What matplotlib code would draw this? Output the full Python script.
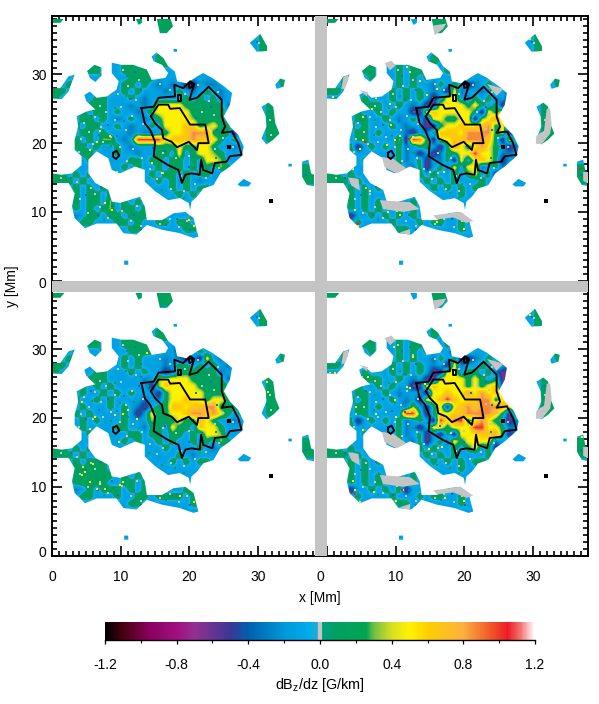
import numpy as np
import matplotlib
matplotlib.use("Agg")
import matplotlib.pyplot as plt
from matplotlib.colors import LinearSegmentedColormap, Normalize
from matplotlib.cm import ScalarMappable
from matplotlib.path import Path
from matplotlib.patches import PathPatch
from matplotlib.ticker import MultipleLocator

plt.rcParams["font.family"] = ["Liberation Sans", "DejaVu Sans"]
plt.rcParams["mathtext.default"] = "regular"

# colour table
cmap_stops = [(-1.2, "#000000"), (-1.1, "#4a0010"), (-0.95, "#8a0060"), (-0.8, "#a01080"), (-0.7, "#933090"),
              (-0.5, "#3b3795"), (-0.4, "#0060ae"), (-0.2, "#0098d8"), (-0.05, "#00aeef"), (-0.012, "#30aac8"),
              (-0.008, "#c4c4c4"), (0.008, "#c4c4c4"), (0.012, "#00a080"), (0.1, "#00a060"), (0.26, "#00a650"),
              (0.3, "#6fbe44"), (0.4, "#d7df23"), (0.5, "#fff200"), (0.6, "#fdd000"), (0.8, "#fbb040"),
              (0.95, "#f15a29"), (1.05, "#ed1c24"), (1.12, "#f47070"), (1.2, "#ffffff")]

# letter -> dBz/dz, for the coarse maps below
levels = {".": -0.13, "b": -0.3, "d": -0.45, "p": -0.62, "g": 0.14, "l": 0.32,
          "y": 0.5, "a": 0.66, "o": 0.86, "r": 1.02}

# 1 Mm cells, rows from y=37 down to y=0, columns x=0..29
map_ul = [
    "gg..........g..ggg", "...............ggg", "", "", "", "...............gg",
    "......g...gg.g.ggg", ".....gg...ggggg...g", "...g...g...gggg....g", "g.g.......gg.g.b.b.pp.bb.g",
    "gg......g.g.g...b.g.b.g.b", "g.....gg...g.b.....g.g.gb",
    ".....ggg...b.b.yyyyggggggb", "....g.gg.g..b.lyyyyyggggg", "....gg.g.b.g.b.gyyyylgggg",
    "...g.gg..g.b..g.yyyaaglygg", "....gg.g...b.bb.gyyaooogggp", "...g.g.ll.b.rrrryaaaoaayg.g",
    "...gg.g..g.b...gggygg" + "yyg..b", "....gg...g..b..gg.y.gyylg", ".....g.....gg.gg.gg.g.yyl",
    "..g.......g.g..g.gg.g.g.lg", "gg.g.g......g.g.gg.g.gg.b", "ggg.g......gg..g.g.g.b",
    "...g.g.g.........g.g.gg.g", "...g.gg.g.........g.g.g", "...g.gg.l.g.g............g",
    "...g.g.gl.gg.gg...g", "...b.gg.gg.gggg.....ggg.gly", "....gg...gg.g..gg.gg.gy",
    "...........gg......gg.gl", "", "", "", "", "", "", "",
]
map_ur = [
    "gg.............ggg", "...............ggg", "", "", "", "...............gg",
    "......g...g.gg.g.g", ".....gg...g.gg.b.ggg", "..g...g...g.g.g.....g", "g.g.......g.g..bg.g.pb.g.g",
    "gg.......g.g.g.b.pyb..b.g.b..g", ".....g...g.g.g.p.yy.bg.gb.p",
    ".....ggg..g.b.ppyyyygyg.gpb", "....g..g.g..ppyayyyyygpygyp", "....gg..g.b.g.pyyggyyplyoyp",
    "...g.g...g.b..ppgyyayyaogybp", "....gg.g...bp.bgaaayoooogypb", "....gg....lprogpyyaaoooagpy.b",
    "...gp.g.g.gb.gg.pgoygyoyg.pb", "...g......gb.p.pbggyyryygbb", ".....g....gb.gp.bgpy.yaygp.b",
    "..g.....g.g.bgp.gby.yyb.gb", "gg.g.........g.g..g.gy.gp", "ggg.g.........g.g.g...g",
    "...g.g.g.......g.g.g.gg", "...g.g...g.........g", "...g.g.g..g.g",
    "...g.g.g..g.g......g.g", "...p..g.g.g.g...g..g.g", "....g....g...g.gg..g.gyl",
    "..........gg.......g.gg", "", "", "", "", "", "", "",
]
map_ll = [
    "gg..........g..ggg", "...............ggg", "", "", "", "...............gg",
    "......g...gg.g.ggg", ".....gg...ggggg...pg", "...g...g...gggg...pp.g", "g.g.......g.g...b.bp.py.bg",
    "gg......g.g.g...b.gg.g.g.b", "g.....gg...g.g..pbggggggb",
    ".....ggg.....b.lyyyygggggbb", "....g.g.g.....playyyygggggb", "....g..g.g.g...pgyyyyygggg",
    "...g..g.g....b.bgyyayygyyg", "....g...g.g.bp.ggaayaaooggg", "...g.g....g.p.yggyyaooaoyg.g",
    "....g.g...g...lgggygg" + "ayg..b", "....g....gg..bgg.ygg.ayyg", ".....g.....gg.gg.gg.g.yyl",
    "..g.......g.g..g.g..g.g.lg", "gg.g.g......g...g....g.b", "ggg.g.......g.....g.b",
    "...g.ggg.........g.g.gg", "...ggggg.g...........", "...gggggg.g.g....",
    "...ggggg..gg.g", "...b.g.ggg.g.g.g...gggglg", "....gg...g..gg.gggg.gg",
    "...........gg.......ggg", "", "", "", "", "", "", "",
]
map_lr = [
    "gg.............ggg", "...............gg", "", "", "", "...............gg",
    "......g...g.gg.g.g", ".....gg...g.gg.b.ggg", "..g...g...g.g.g...p.g", "g.g.......g.g..bg.gppb.g.g",
    "gg.......g.g.g.b.pyb..g.g.b..g", ".....g...g.g.g.ppyy.gg.gbpp",
    ".....ggg..g.b.ppyyyygyg.gppb", "....g..g.g..ppyayyyygygyapp", "....gg..g.b...pyyayyoyoyayyp",
    "...g.g...g.b.pyyarayyaoogyap", "....gg.g...bl.pgypyaoaooooyap", "....gg.....rrgpgyyaaooooagpy.b",
    "...gp.g.g.gb.g.pryorgyoyg.pb", "...g......gb.p.yygyyyrryygbb", ".....g....gb.gp.pgpyyyaaogp.b",
    "..g.....g.g.bgp.gbygyyyyb.gb", "gg.g.........g.g..g.gy.gp", "ggg.g.........g.g.g....g",
    "...g.g.g.......g.g.g.gg", "...g.g...g.........g", "...g.g.g..g.g",
    "...g.g.g..g.g......g.g", "...p..g.g.gp.....g..g.g", "....g....g...g.gg..g.gyy",
    "..........gg.......g.gg", "", "", "", "", "", "", "",
]
# columns x=30..37, same for all four maps
map_side = [
    "", "", "g", "gg", "gg", "", "", "", "...g", "...g", "", "", ".g", ".gg", ".gg", ".gg", ".ggg", ".gg",
    "", "", "", "......gg", "......gg", "......gg", "", "", "", "", "", "", "", "", "", "", "", "", "", "",
]

# outline of the strong field area, Mm
main_x = [8.7, 10.1, 11.8, 13.8, 14.5, 16.5, 16.9, 16.0, 14.8, 14.5, 15.2, 16.2, 16.9, 17.9, 18.2, 19.6, 21.1, 22.0,
          23.3, 25.0, 26.2, 25.9, 25.0, 25.9, 27.1, 27.9, 27.6, 25.9, 24.5, 23.5, 22.0, 21.1, 20.3, 20.1, 19.9, 18.6,
          16.9, 15.0, 13.5, 13.5, 12.1, 9.9, 8.7, 8.2, 6.5, 5.3, 5.3, 6.3, 8.2, 8.7, 9.9, 12.8, 13.5, 13.8, 16.0, 17.7,
          19.4, 20.6, 21.3, 20.6, 18.6, 16.0, 13.8, 12.3, 10.4, 9.4, 6.5, 4.8, 3.3, 2.9, 3.3, 2.4, 0.0, 0.0, 1.4, 2.9,
          4.3, 4.3, 3.3, 3.3, 3.8, 3.6, 5.0, 6.3, 5.0, 4.7, 5.5, 6.5, 8.0, 9.4, 9.7, 8.7]
main_y = [31.7, 31.4, 31.4, 30.7, 29.2, 29.5, 30.2, 31.4, 31.9, 32.6, 33.2, 32.4, 31.2, 30.4, 29.0, 28.7, 29.7, 30.2,
          29.5, 28.3, 27.3, 25.6, 23.9, 22.4, 21.2, 19.5, 18.1, 16.6, 15.6, 13.9, 13.4, 12.2, 11.5, 10.3, 11.3, 12.0,
          11.7, 13.0, 14.4, 16.1, 16.6, 15.6, 16.1, 17.8, 18.8, 17.6, 15.6, 14.2, 13.2, 11.5, 11.3, 12.2, 10.8, 8.8, 8.8, 9.8,
          10.0, 9.1, 6.4, 6.2, 6.9, 7.4, 8.1, 6.7, 6.9, 8.3, 8.3, 7.6, 9.1, 10.8, 12.7, 14.2, 14.2, 15.6, 15.4, 15.6,
          16.8, 18.1, 19.0, 20.5, 22.4, 23.9, 24.6, 24.9, 26.1, 27.0, 27.5, 26.6, 26.8, 27.8, 29.0, 30.2]
blobs = [
    [(5.1, 30.5), (6.2, 31.4), (7.2, 31.0), (7.2, 29.8), (6.3, 28.9), (5.5, 29.5)],
    [(0, 28.0), (1.2, 28.0), (2.4, 29.7), (3.3, 30.0), (2.4, 27.5), (1.4, 26.4), (0, 26.5)],
    [(28.8, 34.6), (30.3, 35.9), (31.3, 34.1), (31.3, 33.4), (29.8, 33.3)],
    [(32.5, 28.5), (33.2, 29.4), (33.9, 29.2), (33.7, 28.2), (32.7, 27.9)],
    [(30.5, 25.3), (31.5, 25.9), (32.2, 25.3), (32.5, 22.9), (33.1, 21.4), (32.2, 20.5), (31.2, 19.8), (30.5, 20.7), (31.2, 22.4), (31.1, 23.9)],
    [(36.4, 17.3), (37.3, 17.6), (37.7, 15.6), (38.3, 15.3), (38.3, 13.7), (37.1, 13.9), (36.4, 15.1)],
    [(27.0, 14.0), (27.9, 14.8), (29.0, 14.2), (28.6, 13.7), (27.4, 13.7)],
    [(15.2, 38.3), (17.2, 38.3), (17.6, 37.0), (16.7, 36.0), (15.7, 36.0)],
    [(12.1, 38.3), (13.1, 38.3), (13.1, 37.5), (12.6, 37.2)],
    [(0, 38.3), (1.9, 38.3), (1.2, 37.5), (0, 37.5)],
    [(10.5, 2.3), (11.1, 2.3), (11.1, 2.9), (10.5, 2.9)],
    [(17.7, 33.3), (18.2, 33.3), (18.2, 33.7), (17.7, 33.7)],
    [(34.4, 16.6), (34.9, 16.6), (34.9, 17.0), (34.4, 17.0)],
]
# grey in the two right panels, where the lower height has no data
grey_blobs = [
    [(2.1, 27.9), (2.4, 29.6), (3.1, 30.0), (3.1, 29.1), (2.6, 27.9)],
    [(32.0, 25.0), (32.5, 25.0), (32.7, 22.8), (32.5, 21.4), (31.3, 19.9), (30.4, 19.9), (30.5, 21.1), (31.6, 21.8)],
    [(8.4, 31.6), (9.4, 32.0), (10.0, 31.3), (9.2, 30.6)],
    [(4.8, 27.7), (6.0, 27.4), (5.8, 26.8)],
    [(15.4, 37.1), (17.4, 37.4), (16.9, 36.6), (15.7, 35.7)],
    [(3.1, 15.0), (4.6, 14.8), (4.8, 13.1), (3.6, 13.8)],
    [(7.7, 11.7), (12.1, 11.4), (13.5, 10.4), (11.1, 10.0), (8.2, 10.4)],
    [(15.5, 9.5), (19.4, 10.0), (21.3, 8.7), (20.3, 8.4), (18.4, 9.2), (16.0, 8.9)],
    [(8.0, 18.0), (9.7, 17.7), (11.6, 16.3), (10.1, 15.6), (8.4, 16.5)],
    [(10.6, 7.0), (12.1, 7.5), (12.1, 6.6)],
    [(37.3, 15.8), (38.3, 15.8), (38.3, 14.0), (37.3, 14.5)],
    [(23.3, 28.6), (25.7, 27.9), (24.7, 26.9)],
]

# single pixels that stand out from their surroundings, Mm
grey_specks = [(4.6, 23.0), (5.4, 21.6), (6.3, 23.8), (7.1, 22.3), (7.9, 24.6), (8.6, 20.9), (9.2, 23.4), (10.1, 25.2),
               (10.8, 21.9), (11.6, 24.0), (12.2, 26.3), (9.6, 27.1), (11.1, 28.3), (12.6, 29.2), (13.3, 22.8), (6.0, 19.9),
               (7.4, 20.2), (4.2, 20.6), (9.9, 19.4), (11.8, 19.2), (13.1, 17.9), (10.9, 17.4), (14.2, 16.2), (15.3, 14.8),
               (17.3, 13.4), (19.2, 13.0), (16.2, 15.6), (20.8, 14.0), (22.4, 15.0), (18.1, 17.8), (16.2, 18.6), (19.9, 18.1),
               (23.7, 19.2), (24.9, 20.8), (26.3, 19.4), (22.9, 26.2), (21.9, 24.6), (23.6, 24.1), (24.1, 27.4), (19.3, 27.1),
               (21.2, 28.4), (17.1, 27.8), (15.7, 28.6), (4.1, 11.8), (5.2, 9.9), (6.3, 12.6), (7.0, 10.7), (8.1, 9.1),
               (9.0, 12.2), (10.2, 10.1), (11.5, 8.6), (12.4, 10.9), (13.0, 8.0), (15.7, 8.3), (17.1, 9.0), (18.5, 7.8),
               (19.7, 8.6), (3.7, 14.3), (1.3, 14.9), (5.7, 13.5), (5.1, 25.9), (8.3, 29.9), (10.4, 30.6), (7.0, 25.4),
               (4.0, 18.7), (12.9, 15.5), (18.8, 15.2), (24.3, 16.4), (23.2, 22.1), (31.7, 23.3), (31.9, 21.2), (30.1, 34.5)]
blue_specks = [(5.7, 24.0), (6.8, 21.2), (8.1, 22.7), (9.5, 21.0), (10.5, 23.2), (11.3, 26.4), (12.7, 24.6), (13.0, 27.8),
               (10.9, 29.8), (12.1, 30.4), (4.9, 19.8), (6.4, 16.0), (7.2, 13.6), (5.0, 12.4), (6.7, 9.6), (8.8, 10.9),
               (9.6, 8.8), (11.9, 9.6), (12.9, 7.4), (16.6, 8.1), (18.2, 8.9), (20.1, 7.3), (16.5, 18.9), (21.0, 23.6),
               (24.0, 21.9), (23.2, 25.2), (2.7, 14.9), (31.6, 24.6), (37.0, 15.3), (29.9, 34.7), (14.7, 19.3), (20.0, 16.5)]
green_specks = [(7.0, 23.3), (9.9, 22.2), (12.0, 22.4), (13.9, 24.7), (11.0, 20.2), (12.6, 18.6), (14.1, 14.9), (16.0, 13.2),
                (17.9, 12.7), (19.7, 14.0), (21.6, 14.9), (23.9, 17.9), (25.4, 19.6), (26.6, 20.6), (23.9, 27.7), (22.0, 28.9),
                (18.9, 27.4), (10.7, 26.9), (12.9, 25.9), (9.1, 25.1), (5.8, 22.5), (8.6, 19.6), (4.6, 9.1), (3.6, 11.1),
                (7.5, 8.8), (10.7, 12.5), (14.6, 9.4), (19.2, 12.0), (1.1, 27.3)]
yellow_ul = [(6.5, 20.2), (8.4, 21.0), (5.5, 19.0), (9.4, 15.8), (7.7, 11.3), (8.7, 10.3), (19.9, 8.8), (20.6, 7.9), (16.0, 15.6),
             (14.5, 17.1), (7.0, 21.7)]
yellow_ur = [(11.6, 31.1), (12.1, 30.3), (9.2, 25.7), (7.2, 26.5), (9.4, 22.6), (5.3, 23.8), (10.6, 21.1), (12.6, 20.9), (8.7, 19.7),
             (5.3, 20.4), (9.2, 16.7), (3.8, 16.3), (4.1, 10.2), (6.3, 13.1), (10.6, 9.5), (4.6, 8.0), (16.0, 8.5), (19.9, 7.5), (17.0, 15.8),
             (15.0, 15.8), (0.9, 26.7), (15.5, 26.5), (14.5, 27.0), (16.0, 27.9), (14.8, 10.9), (29.6, 35.2), (13.5, 29.1), (9.9, 20.4),
             (6.5, 25.0), (4.8, 19.2), (8.9, 10.0), (19.4, 10.0)]
yellow_ll = [(4.5, 12.9), (5.5, 10.7), (6.5, 9.7), (7.0, 10.4), (4.8, 12.1), (9.9, 10.2), (10.4, 10.7), (6.0, 13.3), (13.8, 29.4), (9.2, 20.4),
             (10.4, 20.6), (11.1, 21.1), (6.3, 20.1), (4.3, 22.3), (9.7, 16.5), (5.5, 18.4), (20.6, 7.8), (18.6, 8.7), (31.3, 25.2), (31.5, 23.8),
             (12.3, 19.9), (4.3, 11.7), (7.7, 9.7)]
yellow_lr = [(9.7, 30.3), (12.6, 28.9), (11.6, 24.5), (9.9, 22.6), (4.3, 21.6), (7.2, 20.6), (12.1, 20.9), (13.1, 20.6), (10.1, 20.1), (5.3, 18.2),
             (8.9, 17.2), (4.8, 7.8), (4.1, 9.5), (6.8, 9.2), (11.1, 9.5), (10.1, 8.0), (17.2, 8.3), (19.9, 8.0), (14.8, 10.7), (16.7, 15.8), (14.8, 15.5),
             (0.4, 26.5), (1.2, 26.5), (6.0, 26.0), (14.3, 25.0), (12.1, 24.3), (29.6, 35.0), (12.1, 10.4), (3.8, 10.9), (37.1, 17.2)]
red_lr = [(4.1, 8.9), (11.0, 9.5), (11.4, 20.9), (36.4, 17.0)]
red_ur = [(12.0, 20.6), (5.6, 20.2), (36.9, 16.2), (4.6, 8.2)]

# black contours, Mm
outer_x = [13.0, 14.8, 15.5, 17.9, 17.8, 19.1, 20.1, 20.7, 20.0, 21.1, 22.8, 24.7, 24.7, 25.2, 24.7, 26.2, 27.1, 27.6,
           25.9, 25.4, 23.7, 23.3, 22.0, 21.7, 21.5, 20.3, 19.4, 18.9, 18.4, 16.9, 14.8, 15.0, 14.3, 13.5, 13.0]
outer_y = [25.1, 25.3, 26.6, 26.8, 28.5, 28.0, 29.0, 28.6, 26.3, 26.6, 28.2, 26.3, 23.9, 22.4, 21.5, 21.7, 20.0, 18.3,
           18.1, 17.3, 17.1, 15.6, 16.1, 17.6, 15.4, 15.6, 15.4, 14.2, 16.1, 16.8, 18.1, 20.2, 21.9, 22.9, 25.1]
inner_x = [14.4, 15.5, 16.9, 17.2, 18.6, 20.1, 22.3, 22.8, 21.3, 21.1, 19.9, 18.2, 17.4, 16.2, 16.0, 15.0, 14.4]
inner_y = [23.9, 25.6, 25.6, 25.0, 25.1, 22.7, 22.7, 20.0, 20.0, 19.0, 20.2, 19.4, 20.2, 20.7, 21.9, 22.9, 23.9]
small_rings = [
    ([8.9, 9.4, 9.8, 9.3, 8.9, 8.9], [18.6, 18.9, 18.2, 17.7, 18.0, 18.6]),
    ([18.3, 18.8, 18.8, 18.3, 18.3], [27.0, 27.0, 26.2, 26.2, 27.0]),
    ([19.9, 20.3, 20.5, 20.0, 19.9], [28.6, 28.7, 28.2, 28.0, 28.6]),
]
black_marks_x = [31.9, 25.7]
black_marks_y = [11.6, 19.5]

x_tick_labels = ["0", "10", "20", "30", "0", "10", "20", "30"]
x_label_pos = [0, 10, 20, 30, 39, 50, 60, 70]
y_tick_labels = ["0", "10", "20", "30", "0", "10", "20", "30"]
y_label_pos = [0.6, 10, 20, 30, 39.7, 50, 60, 70]
cbar_ticks = [-1.2, -0.8, -0.4, 0.0, 0.4, 0.8, 1.2]

panels = [(map_ul, 0, 40, False, yellow_ul, []), (map_ur, 40, 40, True, yellow_ur, red_ur),
          (map_ll, 0, 0, False, yellow_ll, []), (map_lr, 40, 0, True, yellow_lr, red_lr)]


def to_grid(rows):
    out = []
    for row, side in zip(rows, map_side):
        row = row[:30].ljust(30, ".") + side.ljust(8, ".")
        out.append([levels[c] for c in row])
    return np.array(out)


def compound(polys, ox, oy):
    verts, codes = [], []
    for p in polys:
        p = [(a + ox, b + oy) for a, b in p]
        verts += p + [p[0]]
        codes += [Path.MOVETO] + [Path.LINETO] * (len(p) - 1) + [Path.CLOSEPOLY]
    return Path(verts, codes)


def specks(pts, ox, oy, color, clip, size=3.0):
    xs = [p[0] + ox for p in pts]
    ys = [p[1] + oy for p in pts]
    sc = ax.scatter(xs, ys, s=size, marker="s", color=color, linewidths=0, zorder=2.5)
    sc.set_clip_path(clip)


W, H = 599, 704
fig = plt.figure(figsize=(W / 100, H / 100), dpi=100)
ax = fig.add_axes([52 / W, 1 - 555.5 / H, 536 / W, 539.5 / H])

vmin, vmax = -1.2, 1.2
cmap = LinearSegmentedColormap.from_list("dbz", [((v - vmin) / (vmax - vmin), c) for v, c in cmap_stops], N=512)
# the maps skip the grey zero band so that blue to green does not leave grey seams
map_stops = [s for s in cmap_stops if abs(s[0]) > 0.009]
map_cmap = LinearSegmentedColormap.from_list("dbz_map", [((v - vmin) / (vmax - vmin), c) for v, c in map_stops], N=512)
norm = Normalize(vmin, vmax)
all_blobs = [list(zip(main_x, main_y))] + blobs

for rows, ox, oy, has_grey, yellows, reds in panels:
    im = ax.imshow(to_grid(rows), cmap=map_cmap, norm=norm, extent=(ox, ox + 38, oy, oy + 38), origin="upper",
                   interpolation="bilinear", aspect="auto", zorder=2)
    clip = PathPatch(compound(all_blobs, ox, oy), transform=ax.transData)
    im.set_clip_path(clip)
    specks(grey_specks, ox, oy, "#c4c4c4", clip)
    specks(blue_specks, ox, oy, "#0078c0", clip)
    specks(green_specks, ox, oy, "#00a060", clip)
    specks(yellows, ox, oy, "#fff200", clip)
    if reds:
        specks(reds, ox, oy, "#ed1c24", clip)
    if has_grey:
        ax.add_patch(PathPatch(compound(grey_blobs, ox, oy), fc="#c4c4c4", ec="none", zorder=2.7))
    ax.plot(np.array(outer_x) + ox, np.array(outer_y) + oy, color="k", lw=1.35, zorder=4)
    ax.plot(np.array(inner_x) + ox, np.array(inner_y) + oy, color="k", lw=1.35, zorder=4)
    for rx, ry in small_rings:
        ax.plot(np.array(rx) + ox, np.array(ry) + oy, color="k", lw=1.35, zorder=4)
    ax.scatter(np.array(black_marks_x) + ox, np.array(black_marks_y) + oy, s=6, marker="s", color="k", lw=0, zorder=4)

ax.axvspan(38.3, 40, color="#c4c4c4", lw=0, zorder=3)
ax.axhspan(38.3, 40, color="#c4c4c4", lw=0, zorder=3)
ax.set_xlim(0, 78)
ax.set_ylim(0, 78.5)

ax.xaxis.set_major_locator(MultipleLocator(10))
ax.xaxis.set_minor_locator(MultipleLocator(1))
ax.yaxis.set_major_locator(MultipleLocator(10))
ax.yaxis.set_minor_locator(MultipleLocator(1))
ax.tick_params(which="major", direction="in", length=7, width=1.2, top=True, right=True, labelbottom=False, labelleft=False)
ax.tick_params(which="minor", direction="in", length=3.5, width=1.2, top=True, right=True)
for s in ax.spines.values():
    s.set_linewidth(1.4)

for pos, lab in zip(x_label_pos, x_tick_labels):
    ax.annotate(lab, (pos, 0), xytext=(0, -15.5), textcoords="offset points", ha="center", va="center", fontsize=10)
for pos, lab in zip(y_label_pos, y_tick_labels):
    ax.annotate(lab, (0, pos), xytext=(-4, -1), textcoords="offset points", ha="right", va="center", fontsize=10)
fig.text(320 / W, 1 - 598 / H, "x [Mm]", ha="center", va="center", fontsize=10)
fig.text(12 / W, 1 - 286 / H, "y [Mm]", ha="center", va="center", rotation=90, fontsize=10)

cax = fig.add_axes([105 / W, 1 - 640 / H, 430 / W, 18 / H])
cb = fig.colorbar(ScalarMappable(norm=norm, cmap=cmap), cax=cax, orientation="horizontal")
cb.outline.set_visible(False)
cax.spines["bottom"].set_visible(True)
cax.spines["bottom"].set_linewidth(1.0)
cb.set_ticks(cbar_ticks, labels=[f"{t:.1f}" for t in cbar_ticks])
cax.xaxis.set_minor_locator(MultipleLocator(0.2))
cax.tick_params(which="major", direction="out", length=3, width=0.9, labelsize=10, pad=10)
cax.tick_params(which="minor", direction="out", length=2, width=0.8)
fig.text(320 / W, 1 - 685 / H, "dB$_z$/dz [G/km]", ha="center", va="center", fontsize=10.4)

fig.savefig("out.png", dpi=100)
